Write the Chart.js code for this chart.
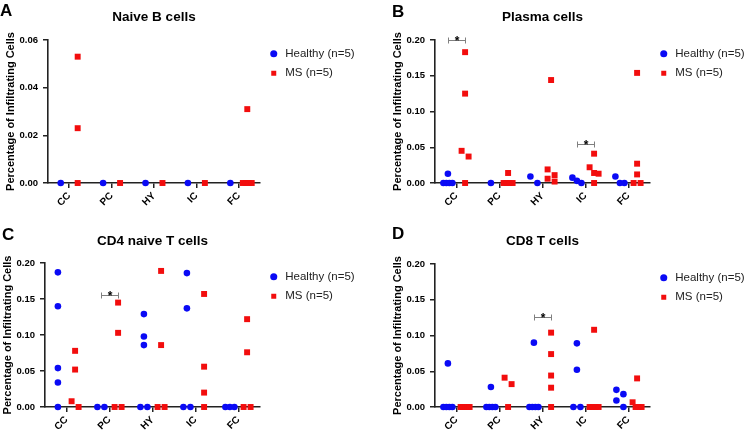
<!DOCTYPE html>
<html>
<head>
<meta charset="utf-8">
<script src="https://cdn.jsdelivr.net/npm/chart.js@4.4.1/dist/chart.umd.min.js"></script>
<style>
  html, body { margin: 0; padding: 0; background: #fff; }
  #wrap { position: relative; width: 753px; height: 437px; overflow: hidden; }
  #wrap canvas { position: absolute; }
</style>
</head>
<body>
<div id="wrap">
  <canvas id="panelA" width="376" height="218" style="left:0;top:0"></canvas>
  <canvas id="panelB" width="377" height="218" style="left:376px;top:0"></canvas>
  <canvas id="panelC" width="376" height="219" style="left:0;top:218px"></canvas>
  <canvas id="panelD" width="377" height="219" style="left:376px;top:218px"></canvas>
</div>
<script>
const categories = ['CC', 'PC', 'HY', 'IC', 'FC'];
const groupNames = ['Healthy (n=5)', 'MS (n=5)'];

// values per category (one inner list per brain region)
const naiveBHealthy = [[0], [0], [0], [0], [0]];
const naiveBMS = [[0.053, 0.023, 0], [0], [0], [0], [0.031, 0, 0, 0, 0]];
const naiveBTicks = [0, 0.02, 0.04, 0.06];
const naiveBSig = [];

const plasmaHealthy = [[0.013, 0, 0, 0, 0], [0], [0.009, 0], [0.0075, 0.003, 0], [0.009, 0, 0]];
const plasmaMS = [[0.183, 0.125, 0.045, 0.037, 0], [0.014, 0, 0, 0, 0], [0.144, 0.019, 0.011, 0.006, 0.002],
                  [0.041, 0.022, 0.014, 0.013, 0], [0.154, 0.027, 0.012, 0, 0]];
const plasmaTicks = [0, 0.05, 0.10, 0.15, 0.20];
const plasmaSig = [['CC', 0.20], ['IC', 0.054]];

const cd4Healthy = [[0.187, 0.140, 0.054, 0.034, 0], [0, 0], [0.129, 0.098, 0.086, 0, 0], [0.186, 0.137, 0, 0], [0, 0, 0]];
const cd4MS = [[0.078, 0.052, 0.008, 0], [0.145, 0.103, 0, 0], [0.189, 0.086, 0, 0], [0.157, 0.056, 0.020, 0], [0.122, 0.076, 0, 0]];
const cd4Ticks = [0, 0.05, 0.10, 0.15, 0.20];
const cd4Sig = [['PC', 0.156]];

const cd8Healthy = [[0.061, 0, 0, 0, 0], [0.028, 0, 0, 0, 0], [0.090, 0, 0, 0, 0], [0.089, 0.052, 0, 0], [0.024, 0.018, 0.009, 0]];
const cd8MS = [[0, 0, 0, 0, 0], [0.041, 0.032, 0], [0.104, 0.074, 0.044, 0.027, 0], [0.108, 0, 0, 0, 0], [0.040, 0.0066, 0, 0, 0]];
const cd8Ticks = [0, 0.05, 0.10, 0.15, 0.20];
const cd8Sig = [['HY', 0.126]];

const FONT = '"Liberation Sans", Arial, sans-serif';
Chart.defaults.font.family = FONT;
Chart.defaults.color = '#000';

// rough plot size in px per unit, only used to space overlapping dots
const X_PX = 43, Y_PX = 143;

// simple column scatter: near-equal values get spread sideways
function swarm(groups, side, yMax) {
  const tol = 6.5 / Y_PX * yMax;
  const pts = [];
  groups.forEach((vals, c) => {
    const base = c + 1 + side * 0.2;
    const s = [...vals].sort((a, b) => b - a);
    for (let i = 0; i < s.length;) {
      let j = i;
      while (j + 1 < s.length && s[i] - s[j + 1] < tol) j++;
      const n = j - i + 1;
      const step = n > 1 ? Math.min(7, 9 / (n - 1)) / X_PX : 0;
      for (let k = 0; k < n; k++) pts.push({ x: base + (k - (n - 1) / 2) * step, y: s[i + k] });
      i = j + 1;
    }
  });
  return pts;
}

// panel letter, title and significance brackets
const decor = {
  id: 'decor',
  afterDraw(chart, args, o) {
    const { ctx, chartArea, scales: { x, y } } = chart;
    ctx.save();
    ctx.fillStyle = '#000';
    ctx.textBaseline = 'alphabetic';
    ctx.font = 'bold 17px ' + FONT;
    ctx.fillText(o.letter, o.letterX, o.letterY);

    ctx.textAlign = 'center';
    ctx.textBaseline = 'middle';
    ctx.font = 'bold 13.5px ' + FONT;
    ctx.fillText(o.title, (chartArea.left + chartArea.right) / 2, o.titleY);

    o.sig.forEach(([cat, level]) => {
      const c = categories.indexOf(cat) + 1;
      const x1 = Math.round(x.getPixelForValue(c - 0.2)) + 0.5;
      const x2 = Math.round(x.getPixelForValue(c + 0.2)) + 0.5;
      const yy = Math.round(y.getPixelForValue(level)) + 0.5;
      ctx.strokeStyle = '#808080';
      ctx.lineWidth = 1;
      ctx.beginPath();
      ctx.moveTo(x1, yy); ctx.lineTo(x2, yy);
      ctx.moveTo(x1, yy - 3); ctx.lineTo(x1, yy + 3);
      ctx.moveTo(x2, yy - 3); ctx.lineTo(x2, yy + 3);
      ctx.stroke();
      ctx.textBaseline = 'alphabetic';
      ctx.font = 'bold 12px ' + FONT;
      ctx.fillText('*', (x1 + x2) / 2, yy + 4);
    });
    ctx.restore();
  }
};

function makePanel(id, p) {
  const yMax = p.ticks[p.ticks.length - 1];
  return new Chart(document.getElementById(id), {
    type: 'scatter',
    data: {
      datasets: [{
        label: groupNames[0],
        data: swarm(p.healthy, -1, yMax),
        pointStyle: 'circle',
        pointRadius: 3.3,
        backgroundColor: '#0a0af5',
        borderWidth: 0
      }, {
        label: groupNames[1],
        data: swarm(p.ms, 1, yMax),
        pointStyle: 'rect',
        pointRadius: 4.2,
        backgroundColor: '#f20d0d',
        borderWidth: 0
      }]
    },
    options: {
      responsive: false,
      animation: false,
      events: [],
      clip: false,
      layout: { padding: { left: p.padLeft, top: p.padTop, right: p.padRight, bottom: p.padBottom } },
      plugins: {
        title: { display: false },
        tooltip: { enabled: false },
        legend: {
          position: 'right',
          align: 'start',
          fullSize: false,
          maxWidth: 100,
          labels: {
            usePointStyle: true,
            boxHeight: 5,
            padding: 8,
            color: '#222',
            font: { size: 11.5 }
          }
        },
        decor: { letter: p.letter, letterX: p.letterX, letterY: p.letterY, title: p.title, titleY: p.titleY, sig: p.sig }
      },
      scales: {
        x: {
          type: 'linear',
          min: 0.5,
          max: categories.length + 0.5,
          afterBuildTicks: s => { s.ticks = categories.map((c, i) => ({ value: i + 1 })); },
          afterFit: s => { s.height = 30; },
          ticks: {
            autoSkip: false,
            minRotation: 45,
            maxRotation: 45,
            padding: 2,
            color: '#000',
            font: { size: 10, weight: 'bold' },
            callback: v => categories[v - 1]
          },
          grid: { display: true, drawOnChartArea: false, drawTicks: true, tickLength: 5, color: '#222', lineWidth: 1.5 },
          border: { display: true, color: '#222', width: 1.6 }
        },
        y: {
          min: p.ticks[0],
          max: yMax,
          afterBuildTicks: s => { s.ticks = p.ticks.map(v => ({ value: v })); },
          afterFit: s => { s.width = 45; },
          ticks: {
            padding: 5,
            color: '#000',
            font: { size: 9.5, weight: 'bold' },
            callback: v => v.toFixed(2)
          },
          title: {
            display: true,
            text: 'Percentage of Infiltrating Cells',
            color: '#000',
            font: { size: 11, weight: 'bold' },
            padding: { top: 1.5, bottom: 0 }
          },
          grid: { display: true, drawOnChartArea: false, drawTicks: true, tickLength: 5, color: '#222', lineWidth: 1.5 },
          border: { display: true, color: '#222', width: 1.6 }
        }
      }
    },
    plugins: [decor]
  });
}

makePanel('panelA', {
  letter: 'A', letterX: 0, letterY: 15.5, title: 'Naive B cells', titleY: 17,
  healthy: naiveBHealthy, ms: naiveBMS, ticks: naiveBTicks, sig: naiveBSig,
  padLeft: 3, padTop: 40, padRight: 16, padBottom: 5
});
makePanel('panelB', {
  letter: 'B', letterX: 16, letterY: 17, title: 'Plasma cells', titleY: 17,
  healthy: plasmaHealthy, ms: plasmaMS, ticks: plasmaTicks, sig: plasmaSig,
  padLeft: 14, padTop: 40, padRight: 3, padBottom: 5
});
makePanel('panelC', {
  letter: 'C', letterX: 2, letterY: 22, title: 'CD4 naive T cells', titleY: 23,
  healthy: cd4Healthy, ms: cd4MS, ticks: cd4Ticks, sig: cd4Sig,
  padLeft: 0, padTop: 45, padRight: 16, padBottom: 0
});
makePanel('panelD', {
  letter: 'D', letterX: 16, letterY: 20.5, title: 'CD8 T cells', titleY: 23,
  healthy: cd8Healthy, ms: cd8MS, ticks: cd8Ticks, sig: cd8Sig,
  padLeft: 14, padTop: 46, padRight: 3, padBottom: 0
});
</script>
</body>
</html>
